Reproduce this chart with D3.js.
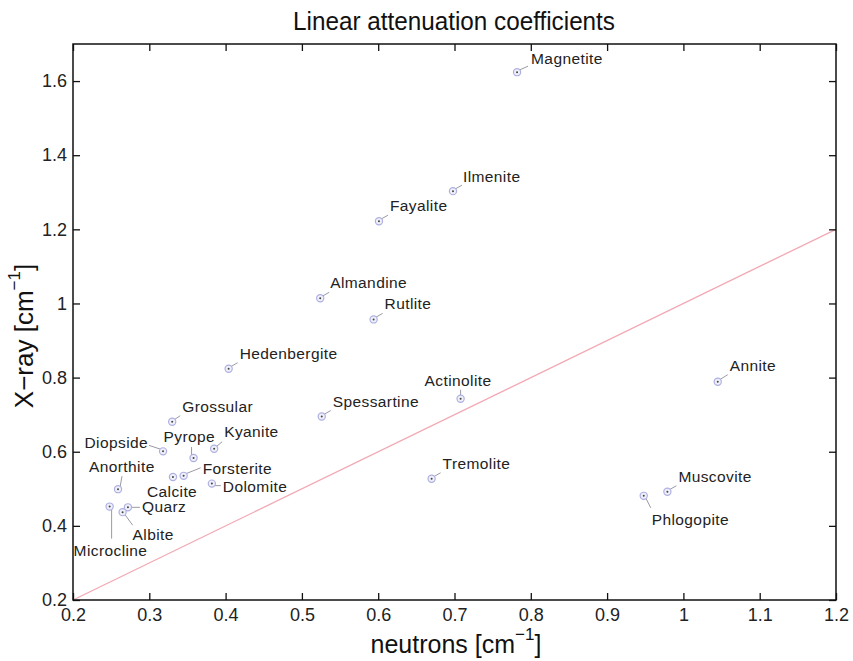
<!DOCTYPE html>
<html>
<head>
<meta charset="utf-8">
<script src="https://cdn.jsdelivr.net/npm/d3@7"></script>
<style>
  body { margin: 0; background: #fff; }
  text { font-family: "Liberation Sans", Arial, sans-serif; }
</style>
</head>
<body>
<svg id="chart" width="853" height="661"></svg>
<script>
// mineral names and their linear attenuation coefficients
const minerals = ["Magnetite","Ilmenite","Fayalite","Almandine","Rutlite","Hedenbergite","Spessartine",
  "Actinolite","Annite","Tremolite","Muscovite","Phlogopite","Grossular","Diopside","Pyrope","Kyanite",
  "Forsterite","Calcite","Dolomite","Anorthite","Quarz","Albite","Microcline"];
const neutrons = [0.782,0.698,0.601,0.524,0.594,0.404,0.526,
  0.708,1.045,0.670,0.979,0.948,0.330,0.318,0.358,0.385,
  0.345,0.331,0.382,0.259,0.272,0.265,0.248];
const xray = [1.624,1.303,1.222,1.014,0.957,0.824,0.695,
  0.743,0.789,0.527,0.492,0.481,0.681,0.601,0.583,0.608,
  0.535,0.532,0.514,0.499,0.450,0.437,0.452];
const xTicks = [0.2,0.3,0.4,0.5,0.6,0.7,0.8,0.9,1,1.1,1.2];
const yTicks = [0.2,0.4,0.6,0.8,1,1.2,1.4,1.6];

// label placement relative to the point: text dx, dy, leader end dx, dy, anchor
const labelLayout = {
  Magnetite: [14,-8,11,-6,"start"], Ilmenite: [10,-9,9,-6,"start"], Fayalite: [11,-10,9,-6,"start"],
  Almandine: [10,-10,9,-6,"start"], Rutlite: [11,-10,9,-6,"start"], Hedenbergite: [11,-10,9,-6,"start"],
  Spessartine: [11,-10,9,-6,"start"], Actinolite: [-36,-13,0,-9,"start"], Annite: [12,-11,10,-7,"start"],
  Tremolite: [11,-10,9,-6,"start"], Muscovite: [11,-10,9,-6,"start"], Phlogopite: [8,29,7,12,"start"],
  Grossular: [10,-10,8,-6,"start"], Diopside: [-15,-3,-14,-6,"end"], Pyrope: [-30,-16,-2,-11,"start"],
  Kyanite: [10,-12,8,-7,"start"], Forsterite: [19,-2,17,-8,"start"], Calcite: [-26,20,-1,3,"start"],
  Dolomite: [11,8,9,2,"start"], Anorthite: [-29,-17,4,-13,"start"], Quarz: [14,5,12,0,"start"],
  Albite: [10,28,10,13,"start"], Microcline: [-36,49,2,32,"start"]
};

const plotLeft = 73, plotRight = 836, plotTop = 44, plotBottom = 600;
const svg = d3.select("#chart");

const x = d3.scaleLinear().domain([0.2, 1.2]).range([plotLeft, plotRight]);
const y = d3.scaleLinear().domain([0.2, 1.7]).range([plotBottom, plotTop]);

// title
svg.append("text")
   .attr("x", 454).attr("y", 30)
   .attr("text-anchor", "middle")
   .attr("textLength", 322).attr("lengthAdjust", "spacingAndGlyphs")
   .style("font-size", "25px").style("fill", "#111")
   .text("Linear attenuation coefficients");

// y = x reference line
svg.append("line")
   .attr("x1", x(0.2)).attr("y1", y(0.2))
   .attr("x2", x(1.2)).attr("y2", y(1.2))
   .style("stroke", "#f2a9b4").style("stroke-width", 1.3);

// axes, ticks pointing inward on all four sides
const tickLen = 7;
svg.append("g").attr("transform", "translate(0," + plotBottom + ")")
   .call(d3.axisBottom(x).tickValues(xTicks).tickSizeInner(-tickLen).tickSizeOuter(0).tickPadding(8).tickFormat(d3.format("")));
svg.append("g").attr("transform", "translate(0," + plotTop + ")")
   .call(d3.axisTop(x).tickValues(xTicks).tickSizeInner(-tickLen).tickSizeOuter(0).tickFormat(""));
svg.append("g").attr("transform", "translate(" + plotLeft + ",0)")
   .call(d3.axisLeft(y).tickValues(yTicks).tickSizeInner(-tickLen).tickSizeOuter(0).tickPadding(6).tickFormat(d3.format("")));
svg.append("g").attr("transform", "translate(" + plotRight + ",0)")
   .call(d3.axisRight(y).tickValues(yTicks).tickSizeInner(-tickLen).tickSizeOuter(0).tickFormat(""));

svg.selectAll(".domain").remove();
svg.selectAll(".tick line").style("stroke", "#111").style("stroke-width", 1.3);
svg.selectAll(".tick text").style("font-size", "18px").style("fill", "#222").style("font-family", "Liberation Sans, Arial, sans-serif");

// frame
svg.append("rect")
   .attr("x", plotLeft).attr("y", plotTop)
   .attr("width", plotRight - plotLeft).attr("height", plotBottom - plotTop)
   .style("fill", "none").style("stroke", "#111").style("stroke-width", 1.5);

// axis labels
const xl = svg.append("text")
   .attr("x", 456).attr("y", 653)
   .attr("text-anchor", "middle")
   .style("font-size", "25px").style("fill", "#111");
xl.append("tspan").text("neutrons [cm");
xl.append("tspan").attr("dy", -13).style("font-size", "17px").text("\u22121");
xl.append("tspan").attr("dy", 13).text("]");

const yl = svg.append("text")
   .attr("transform", "translate(33," + 336 + ")rotate(-90)")
   .attr("text-anchor", "middle")
   .style("font-size", "26px").style("fill", "#111");
yl.append("tspan").text("X\u2212ray [cm");
yl.append("tspan").attr("dy", -13).style("font-size", "17px").text("\u22121");
yl.append("tspan").attr("dy", 13).text("]");

// points with leader lines and names
const pts = svg.append("g").attr("class", "points");
minerals.forEach((name, i) => {
  const px = x(neutrons[i]), py = y(xray[i]);
  const l = labelLayout[name];
  const sx = l[2] === 0 ? 0 : Math.sign(l[2]) * 2;
  const sy = Math.sign(l[3]) * 2;
  pts.append("line")
     .attr("x1", px + sx).attr("y1", py + sy)
     .attr("x2", px + l[2]).attr("y2", py + l[3])
     .style("stroke", "#9a9aa6").style("stroke-width", 1);
  pts.append("circle")
     .attr("cx", px).attr("cy", py).attr("r", 3.6)
     .style("fill", "#f0f0fa").style("stroke", "#aeb0e2").style("stroke-width", 1.2);
  pts.append("circle")
     .attr("cx", px).attr("cy", py).attr("r", 1)
     .style("fill", "#444");
  pts.append("text")
     .attr("x", px + l[0]).attr("y", py + l[1])
     .attr("text-anchor", l[4])
     .style("font-size", "15.5px").style("letter-spacing", "0.4px").style("fill", "#222")
     .text(name);
});
</script>
</body>
</html>
